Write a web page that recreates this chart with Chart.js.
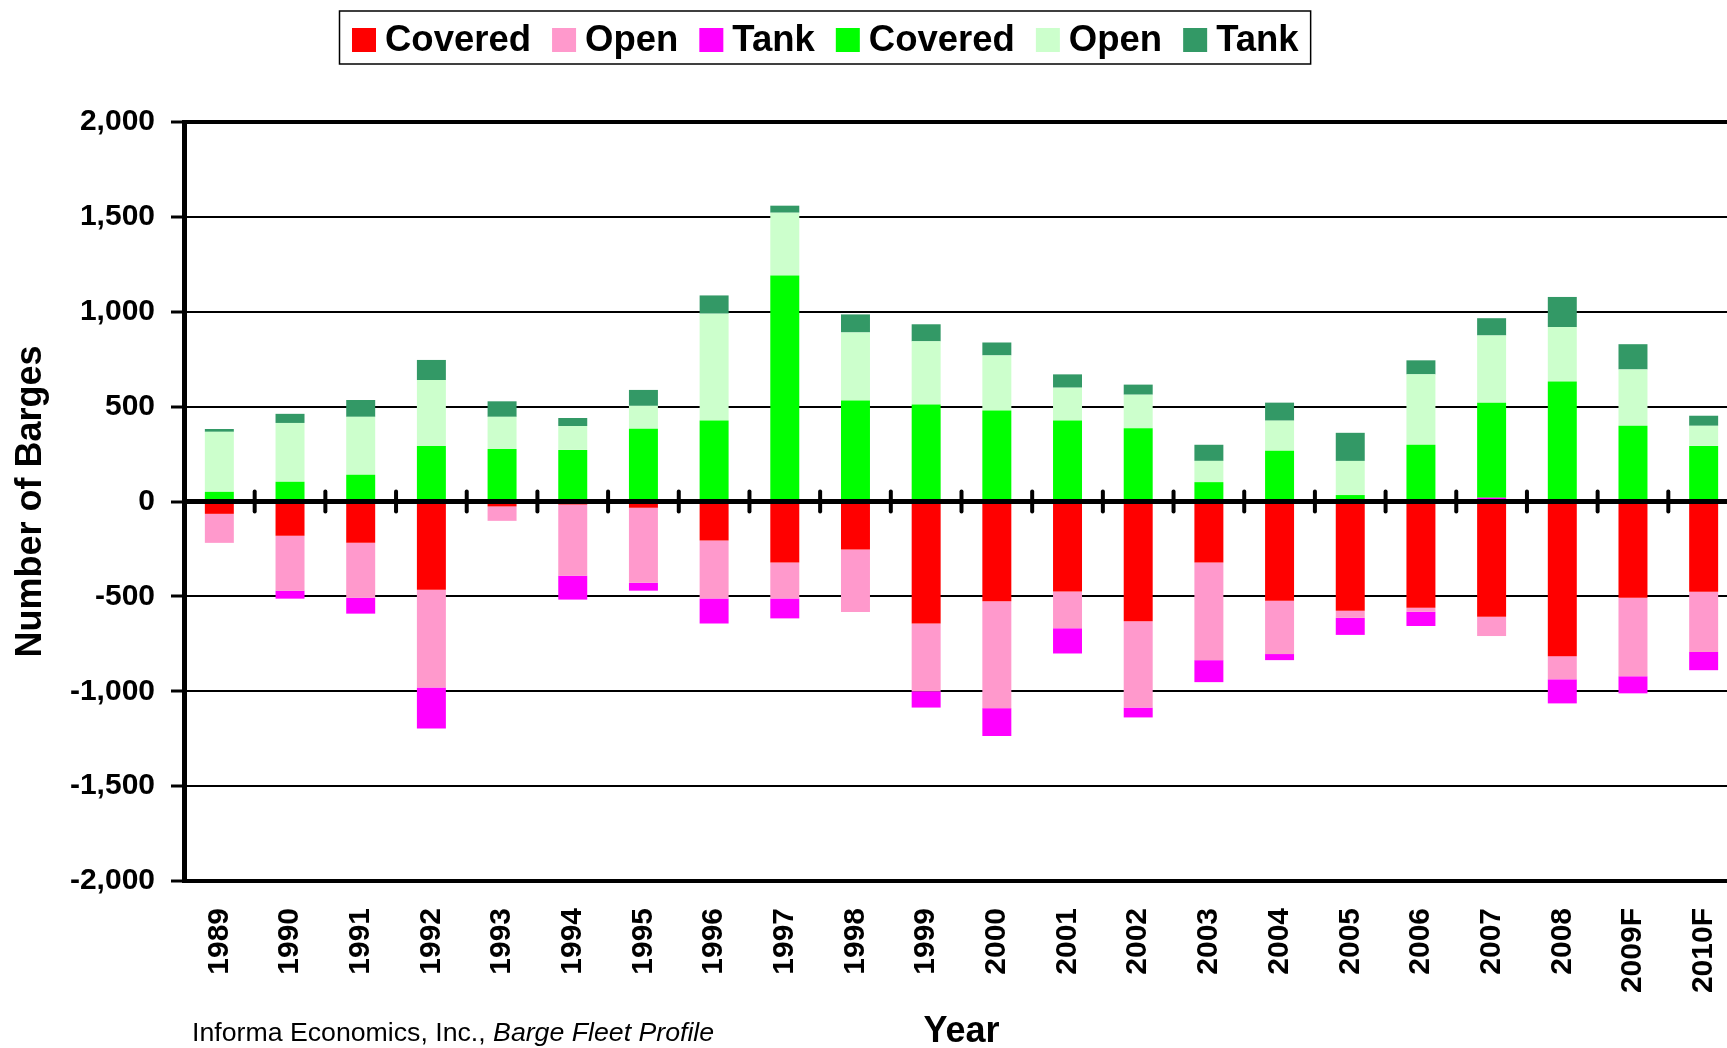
<!DOCTYPE html>
<html>
<head>
<meta charset="utf-8">
<title>Barge Fleet Additions and Retirements</title>
<script src="https://cdn.jsdelivr.net/npm/chart.js@4.4.0/dist/chart.umd.min.js"></script>
<style>
  html, body { margin: 0; padding: 0; background: #fff; overflow: hidden; }
  #wrap { position: relative; width: 1741px; height: 1048px; }
</style>
</head>
<body>
<div id="wrap"><canvas id="bargeChart"></canvas></div>
<script>
var years = ['1989', '1990', '1991', '1992', '1993', '1994', '1995', '1996', '1997', '1998', '1999',
             '2000', '2001', '2002', '2003', '2004', '2005', '2006', '2007', '2008', '2009F', '2010F'];

// barges retired (below zero)
var retiredCovered = [-65, -181, -218, -465, -26, -16, -33, -205, -322, -253, -643,
                      -526, -474, -631, -322, -523, -576, -560, -608, -815, -507, -475];
var retiredOpen = [-153, -289, -289, -515, -76, -375, -395, -306, -189, -330, -357,
                   -563, -194, -455, -514, -281, -37, -21, -101, -122, -414, -318];
var retiredTank = [0, -42, -84, -216, 0, -126, -42, -132, -105, 0, -86,
                   -147, -133, -52, -116, -32, -90, -75, 20, -127, -90, -96];

// barges built (above zero)
var builtCovered = [51, 104, 141, 293, 277, 272, 383, 427, 1191, 532, 511,
                    479, 427, 386, 102, 267, 34, 299, 500, 633, 399, 293];
var builtOpen = [316, 310, 305, 347, 169, 126, 121, 563, 331, 359, 333,
                 291, 173, 177, 112, 159, 180, 371, 355, 286, 297, 106];
var builtTank = [15, 48, 89, 106, 82, 42, 84, 96, 37, 95, 90,
                 68, 70, 53, 85, 95, 148, 74, 91, 159, 133, 53];

var yMin = -2000;
var yMax = 2000;
var yStep = 500;

var fontFamily = '"Liberation Sans", Arial, Helvetica, sans-serif';
Chart.defaults.font.family = fontFamily;
Chart.defaults.color = '#000';

// legend drawn by hand so the box / text spacing looks like the original
var legendBox = {
  id: 'legendBox',
  afterDraw: function(chart) {
    var ctx = chart.ctx;
    ctx.save();
    ctx.font = 'bold 36.5px ' + fontFamily;
    ctx.textBaseline = 'middle';
    var x = 352;
    var midY = 40;
    var left = x - 12.5;
    var right = x;
    chart.data.datasets.forEach(function(ds) {
      ctx.fillStyle = ds.backgroundColor;
      ctx.fillRect(x, midY - 12, 24, 24);
      ctx.fillStyle = '#000';
      ctx.fillText(ds.label, x + 33, midY + 1);
      x += 33 + ctx.measureText(ds.label).width;
      right = x + 12;
      x += 21;
    });
    ctx.strokeStyle = '#000';
    ctx.lineWidth = 1.5;
    ctx.strokeRect(left, 11, right - left, 53);
    ctx.restore();
  }
};

// heavy zero line with the little category ticks crossing it
var zeroAxis = {
  id: 'zeroAxis',
  afterDatasetsDraw: function(chart) {
    var ctx = chart.ctx;
    var area = chart.chartArea;
    var xs = chart.scales.x;
    var y0 = chart.scales.y.getPixelForValue(0);
    ctx.save();
    ctx.strokeStyle = '#000';
    ctx.lineWidth = 5;
    ctx.beginPath();
    ctx.moveTo(area.left, y0);
    ctx.lineTo(area.right, y0);
    ctx.stroke();
    var half = (xs.getPixelForValue(1) - xs.getPixelForValue(0)) / 2;
    ctx.lineWidth = 4;
    ctx.lineCap = 'round';
    for (var i = 1; i <= years.length; i++) {
      var bx = xs.getPixelForValue(i) - half;
      ctx.beginPath();
      ctx.moveTo(bx, y0 - 10);
      ctx.lineTo(bx, y0 + 10);
      ctx.stroke();
    }
    ctx.restore();
  }
};

// source note at bottom left
var sourceNote = {
  id: 'sourceNote',
  afterDraw: function(chart) {
    var ctx = chart.ctx;
    ctx.save();
    ctx.fillStyle = '#000';
    ctx.textBaseline = 'alphabetic';
    ctx.font = '26.7px ' + fontFamily;
    var first = 'Informa Economics, Inc., ';
    ctx.fillText(first, 192, 1041);
    var w = ctx.measureText(first).width;
    ctx.font = 'italic 26.7px ' + fontFamily;
    ctx.fillText('Barge Fleet Profile', 192 + w, 1041);
    ctx.restore();
  }
};

var ctx = document.getElementById('bargeChart').getContext('2d');

var bargeChart = new Chart(ctx, {
  type: 'bar',
  data: {
    labels: years,
    datasets: [
      { label: 'Covered', data: retiredCovered, backgroundColor: '#FF0000' },
      { label: 'Open', data: retiredOpen, backgroundColor: '#FF99CC' },
      { label: 'Tank', data: retiredTank, backgroundColor: '#FF00FF' },
      { label: 'Covered', data: builtCovered, backgroundColor: '#00FF00' },
      { label: 'Open', data: builtOpen, backgroundColor: '#CCFFCC' },
      { label: 'Tank', data: builtTank, backgroundColor: '#339966' }
    ]
  },
  options: {
    responsive: true,
    maintainAspectRatio: false,
    animation: false,
    layout: { padding: { top: 122, left: 5, right: 2, bottom: 0 } },
    datasets: {
      bar: { barPercentage: 0.41, categoryPercentage: 1.0, borderWidth: 0 }
    },
    plugins: {
      legend: { display: false },
      tooltip: { enabled: false }
    },
    scales: {
      x: {
        stacked: true,
        grid: { display: false, drawTicks: false },
        border: { display: true, color: '#000', width: 4 },
        ticks: {
          minRotation: 90,
          maxRotation: 90,
          padding: 27,
          color: '#000',
          font: { size: 30, weight: 'bold' }
        },
        title: {
          display: true,
          text: 'Year',
          color: '#000',
          font: { size: 36, weight: 'bold', lineHeight: 0.86 },
          padding: { top: 0, bottom: 0 }
        },
        afterFit: function(scale) {
          scale.height = 167;
          // plot runs off the right edge in the original, no label room needed
          scale.paddingLeft = 0;
          scale.paddingRight = 0;
        }
      },
      y: {
        stacked: true,
        min: yMin,
        max: yMax,
        ticks: {
          stepSize: yStep,
          padding: 16,
          color: '#000',
          font: { size: 30, weight: 'bold' },
          callback: function(v) { return v.toLocaleString('en-US'); }
        },
        grid: {
          color: '#000',
          lineWidth: function(c) {
            if (c.tick && (c.tick.value === yMax || c.tick.value === yMin)) return 4;
            return 2;
          },
          tickLength: 13,
          tickWidth: 3,
          tickColor: '#000'
        },
        border: { display: true, color: '#000', width: 5 },
        title: {
          display: true,
          text: 'Number of Barges',
          color: '#000',
          font: { size: 36, weight: 'bold', lineHeight: 1 },
          padding: { top: 8, bottom: 0 }
        },
        afterFit: function(scale) { scale.width = 179; }
      }
    }
  },
  plugins: [zeroAxis, legendBox, sourceNote]
});
</script>
</body>
</html>
